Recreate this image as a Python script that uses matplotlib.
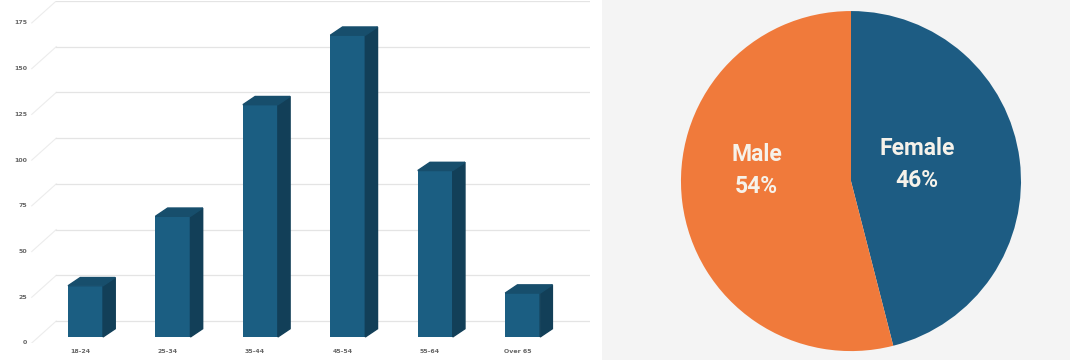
import numpy as np
import matplotlib.pyplot as plt
from matplotlib.patches import Polygon

# age distribution
age_groups = ['18-24', '25-34', '35-44', '45-54', '55-64', 'Over 65']
age_counts = [28, 66, 127, 165, 91, 24]
y_ticks = [0, 25, 50, 75, 100, 125, 150, 175]

# gender split
genders = ['Female', 'Male']
gender_pct = [46, 54]

BAR_FRONT = '#1b5e82'
BAR_SIDE = '#123f58'
BAR_TOP = '#174e6c'
PIE_COLORS = ['#1d5c83', '#f07a3b']


def draw_bars(ax):
    x = np.arange(len(age_groups))
    w = 0.40
    # depth offsets in data units for the fake 3d look
    depth_x, depth_y = 0.14, 4.5
    lift = 3.3
    wall_x, wall_y = 0.30, 12.0

    # back wall gridlines plus the slanted side-wall segment
    x_left = ax.get_xlim()[0]
    for v in y_ticks:
        ax.plot([x_left + 0.02, x_left + wall_x], [v, v + wall_y],
                color='#ececec', lw=0.8, zorder=1)
        ax.plot([x_left + wall_x, ax.get_xlim()[1]], [v + wall_y, v + wall_y],
                color='#e4e4e4', lw=0.9, zorder=1)
        ax.text(x_left - 0.03, v, str(v), ha='right', va='center',
                fontsize=4.5, color='#666666', fontweight='bold')

    for xi, v in zip(x, age_counts):
        x0, x1 = xi - w / 2, xi + w / 2
        y0, y1 = lift, lift + v
        ax.bar(xi, v, width=w, bottom=y0, color=BAR_FRONT, zorder=3)
        side = [(x1, y0), (x1 + depth_x, y0 + depth_y),
                (x1 + depth_x, y1 + depth_y), (x1, y1)]
        top = [(x0, y1), (x0 + depth_x, y1 + depth_y),
               (x1 + depth_x, y1 + depth_y), (x1, y1)]
        ax.add_patch(Polygon(side, closed=True, color=BAR_SIDE, zorder=3))
        ax.add_patch(Polygon(top, closed=True, color=BAR_TOP, zorder=3))
        ax.text(xi - 0.06, -3.5, age_groups[xi], ha='center', va='top',
                fontsize=4.5, color='#666666', fontweight='bold')

    ax.set_axis_off()


def draw_pie(ax):
    wedges, _ = ax.pie(gender_pct, colors=PIE_COLORS, startangle=90,
                       counterclock=False, radius=1.0)
    # label radius and lift for each wedge
    label_r = {'Female': 0.39, 'Male': 0.56}
    label_lift = {'Female': 0.05, 'Male': 0.13}
    for wedge, name, pct in zip(wedges, genders, gender_pct):
        mid = np.deg2rad((wedge.theta1 + wedge.theta2) / 2)
        tx = label_r[name] * np.cos(mid)
        ty = label_r[name] * np.sin(mid) + label_lift[name]
        ax.text(tx, ty, f'{name}\n{pct}%', ha='center', va='center',
                color='#f6f2ea', fontsize=16.5, fontweight='bold',
                family='Roboto', linespacing=1.5)
    ax.set_aspect('equal')
    ax.set_xlim(-1.476, 1.288)
    ax.set_ylim(-1.076, 1.065)


def main():
    fig = plt.figure(figsize=(10.7, 3.64), dpi=100)
    fig.patch.set_facecolor('white')

    ax_bar = fig.add_axes([30 / 1070, 21 / 364, 560 / 1070, 342 / 364])
    ax_bar.set_xlim(-0.635, 5.77)
    ax_bar.set_ylim(0, 187)
    draw_bars(ax_bar)

    # grey panel behind the pie
    panel = fig.add_axes([602 / 1070, 4 / 364, 468 / 1070, 360 / 364])
    panel.set_facecolor('#f4f4f4')
    panel.set_xticks([])
    panel.set_yticks([])
    for s in panel.spines.values():
        s.set_visible(False)

    ax_pie = fig.add_axes([600 / 1070, 0, 470 / 1070, 1])
    ax_pie.patch.set_alpha(0)
    draw_pie(ax_pie)

    fig.savefig('out.png', dpi=100)


if __name__ == '__main__':
    main()
